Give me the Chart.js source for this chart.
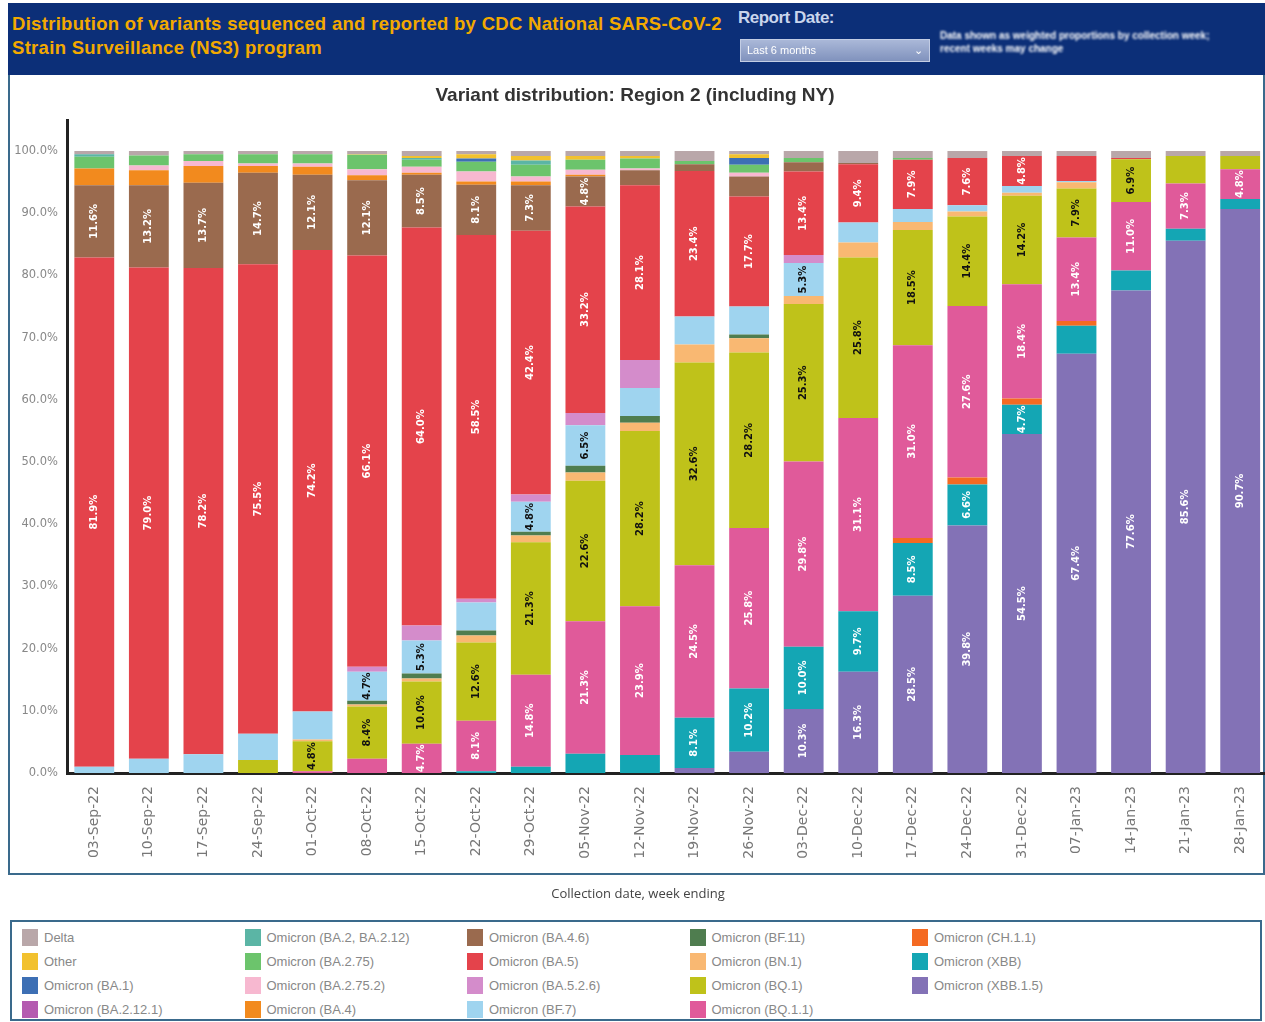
<!DOCTYPE html>
<html>
<head>
<meta charset="utf-8">
<script src="https://cdn.jsdelivr.net/npm/chart.js@4.4.0/dist/chart.umd.min.js"></script>
<style>
html, body { margin: 0; padding: 0; background: #fff; overflow: hidden; width: 1265px; height: 1022px; font-family: "Liberation Sans", Arial, sans-serif; }
#header { position: absolute; left: 8px; top: 3px; width: 1257px; height: 72px; background: #0c2f78; }
#header .title { position: absolute; left: 4px; top: 9px; width: 725px; color: #f2a900; font-weight: bold; font-size: 18.5px; line-height: 24px; letter-spacing: 0.3px; white-space: nowrap; }
#header .rd { position: absolute; left: 730px; top: 5px; color: #c9d5ec; font-weight: bold; font-size: 17px; letter-spacing: -0.5px; }
#header .dd { position: absolute; left: 732px; top: 36px; width: 188px; height: 21px; background: linear-gradient(#aab8d8, #8092bd); border: 1px solid #c3cde4; color: #fff; font-size: 11px; line-height: 21px; text-indent: 6px; filter: blur(0.6px); }
#header .dd span { position: absolute; right: 6px; top: 0; }
#header .note { position: absolute; left: 932px; top: 26px; width: 300px; color: #fff; font-size: 10px; font-weight: bold; line-height: 13px; filter: blur(1.2px); }
#box { position: absolute; left: 8px; top: 75px; width: 1253px; height: 798px; border: 2px solid #3a6a8c; border-top: none; }
#c { position: absolute; left: 0; top: 76px; }
#xtitle { position: absolute; left: 0; width: 1276px; top: 884px; text-align: center; font-family: "Open Sans", sans-serif; font-size: 13px; color: #444; }
#legend { position: absolute; left: 10px; top: 920px; width: 1248px; height: 97px; border: 2px solid #3a6a8c; }
#legend .grid { position: absolute; left: 10px; top: 3px; display: grid; grid-auto-flow: column; grid-template-rows: repeat(4, 24px); grid-template-columns: repeat(5, 222.5px); }
#legend .it { display: flex; align-items: center; font-size: 13px; color: #888; white-space: nowrap; }
#legend .sw { width: 16px; height: 17px; margin-right: 6px; flex: none; }
</style>
</head>
<body>
<div id="header">
  <div class="title">Distribution of variants sequenced and reported by CDC National SARS-CoV-2<br>Strain Surveillance (NS3) program</div>
  <div class="rd">Report Date:</div>
  <div class="dd">Last 6 months<span>&#8964;</span></div>
  <div class="note">Data shown as weighted proportions by collection week; recent weeks may change</div>
</div>
<div id="box"></div>
<canvas id="c" width="1270" height="834"></canvas>
<div id="xtitle">Collection date, week ending</div>
<div id="legend"><div class="grid" id="lg"></div></div>
<script>
// week ending dates
var weeks = ['03-Sep-22', '10-Sep-22', '17-Sep-22', '24-Sep-22', '01-Oct-22', '08-Oct-22', '15-Oct-22', '22-Oct-22',
    '29-Oct-22', '05-Nov-22', '12-Nov-22', '19-Nov-22', '26-Nov-22', '03-Dec-22', '10-Dec-22', '17-Dec-22',
    '24-Dec-22', '31-Dec-22', '07-Jan-23', '14-Jan-23', '21-Jan-23', '28-Jan-23']

// percent of sequences, one array per lineage
var delta     = [0.5, 0.7, 0.5, 0.5, 0.5, 0.5, 0.8, 0.5, 0.8, 0.8, 0.8, 1.6, 0.5, 1.1, 1.9, 1.1, 1.1, 0.8, 0.8, 1.1, 0.8, 0.8]
var other     = [0, 0, 0, 0, 0, 0.1, 0.3, 0.7, 0.7, 0.6, 0.4, 0, 0.6, 0, 0, 0, 0, 0, 0, 0, 0, 0]
var ba1       = [0, 0, 0, 0, 0, 0, 0, 0.5, 0, 0, 0, 0, 1.1, 0, 0, 0, 0, 0, 0, 0, 0, 0]
var ba2_12_1  = [0, 0, 0, 0, 0, 0, 0, 0, 0, 0, 0, 0, 0, 0, 0, 0, 0, 0, 0, 0, 0, 0]
var ba2       = [0.4, 0, 0, 0, 0, 0, 0.3, 0, 0.7, 0, 0, 0, 0, 0, 0, 0, 0, 0, 0, 0, 0, 0]
var ba2_75    = [1.9, 1.6, 1.1, 1.5, 1.5, 2.3, 1.1, 1.6, 1.9, 1.6, 1.6, 0.5, 1.3, 0.7, 0, 0.3, 0, 0, 0, 0, 0, 0]
var ba2_75_2  = [0, 0.8, 0.8, 0.4, 0.5, 1.0, 1.0, 1.6, 0.8, 0.8, 0.3, 0, 0.6, 0, 0, 0, 0, 0, 0, 0, 0, 0]
var ba4       = [2.7, 2.4, 2.7, 1.1, 1.3, 0.8, 0.3, 0.5, 0.6, 0.3, 0, 0, 0, 0, 0, 0, 0, 0, 0, 0, 0, 0]
var ba4_6     = [11.6, 13.2, 13.7, 14.7, 12.1, 12.1, 8.5, 8.1, 7.3, 4.8, 2.4, 1.1, 3.2, 1.5, 0.2, 0, 0, 0, 0, 0, 0, 0]
var ba5       = [81.9, 79.0, 78.2, 75.5, 74.2, 66.1, 64.0, 58.5, 42.4, 33.2, 28.1, 23.4, 17.7, 13.4, 9.4, 7.9, 7.6, 4.8, 4.0, 0.2, 0, 0]
var ba5_2_6   = [0, 0, 0, 0, 0, 0.8, 2.4, 0.6, 1.2, 2.0, 4.5, 0, 0, 1.3, 0, 0, 0, 0, 0, 0, 0, 0]
var bf7       = [1.0, 2.3, 3.0, 4.2, 4.5, 4.7, 5.3, 4.5, 4.8, 6.5, 4.5, 4.5, 4.5, 5.3, 3.2, 2.1, 1.0, 1.1, 0.2, 0, 0, 0]
var bf11      = [0, 0, 0, 0, 0, 0.6, 0.8, 0.8, 0.6, 1.1, 1.1, 0, 0.6, 0, 0, 0, 0, 0, 0, 0, 0, 0]
var bn1       = [0, 0, 0, 0, 0.3, 0.3, 0.5, 1.1, 1.1, 1.3, 1.3, 2.9, 2.3, 1.3, 2.4, 1.3, 0.8, 0.5, 1.0, 0, 0, 0]
var bq1       = [0, 0, 0, 2.1, 4.8, 8.4, 10.0, 12.6, 21.3, 22.6, 28.2, 32.6, 28.2, 25.3, 25.8, 18.5, 14.4, 14.2, 7.9, 6.9, 4.4, 2.1]
var bq1_1     = [0, 0, 0, 0, 0.3, 2.3, 4.7, 8.1, 14.8, 21.3, 23.9, 24.5, 25.8, 29.8, 31.1, 31.0, 27.6, 18.4, 13.4, 11.0, 7.3, 4.8]
var ch1_1     = [0, 0, 0, 0, 0, 0, 0, 0, 0, 0, 0, 0, 0, 0, 0, 0.8, 1.1, 1.0, 0.8, 0, 0, 0]
var xbb       = [0, 0, 0, 0, 0, 0, 0, 0.3, 1.0, 3.1, 2.9, 8.1, 10.2, 10.0, 9.7, 8.5, 6.6, 4.7, 4.5, 3.2, 1.9, 1.6]
var xbb1_5    = [0, 0, 0, 0, 0, 0, 0, 0, 0, 0, 0, 0.8, 3.4, 10.3, 16.3, 28.5, 39.8, 54.5, 67.4, 77.6, 85.6, 90.7]

// legend order (top of the stack first)
var lineages = [
    ['Delta', delta, '#b9a7a9'],
    ['Other', other, '#f2c12e'],
    ['Omicron (BA.1)', ba1, '#3d6fb4'],
    ['Omicron (BA.2.12.1)', ba2_12_1, '#b45bb0'],
    ['Omicron (BA.2, BA.2.12)', ba2, '#5bb5a5'],
    ['Omicron (BA.2.75)', ba2_75, '#6cc46c'],
    ['Omicron (BA.2.75.2)', ba2_75_2, '#f7b8d0'],
    ['Omicron (BA.4)', ba4, '#f28a1e'],
    ['Omicron (BA.4.6)', ba4_6, '#9a6a4e'],
    ['Omicron (BA.5)', ba5, '#e4434b'],
    ['Omicron (BA.5.2.6)', ba5_2_6, '#d48ccb'],
    ['Omicron (BF.7)', bf7, '#9fd4ef'],
    ['Omicron (BF.11)', bf11, '#4f7d4f'],
    ['Omicron (BN.1)', bn1, '#f9b872'],
    ['Omicron (BQ.1)', bq1, '#bfc21a'],
    ['Omicron (BQ.1.1)', bq1_1, '#e05a9a'],
    ['Omicron (CH.1.1)', ch1_1, '#f46a22'],
    ['Omicron (XBB)', xbb, '#14a6b4'],
    ['Omicron (XBB.1.5)', xbb1_5, '#8372b6']
]

var darkText = ['Omicron (BQ.1)', 'Omicron (BF.7)', 'Omicron (BN.1)']

// html legend, column by column
var lg = document.getElementById('lg')
lineages.forEach(function (l) {
    var d = document.createElement('div')
    d.className = 'it'
    d.innerHTML = '<span class="sw" style="background:' + l[2] + '"></span>' + l[0]
    lg.appendChild(d)
})

// value labels inside segments
var segLabels = {
    id: 'segLabels',
    afterDatasetsDraw: function (chart) {
        var ctx = chart.ctx
        ctx.save()
        ctx.font = 'bold 10px "DejaVu Sans"'
        ctx.textAlign = 'center'
        ctx.textBaseline = 'middle'
        chart.data.datasets.forEach(function (ds, i) {
            var meta = chart.getDatasetMeta(i)
            meta.data.forEach(function (bar, j) {
                var v = ds.data[j]
                if (v < 4.7) return
                var h = bar.base - bar.y
                ctx.save()
                ctx.translate(bar.x, bar.y + h / 2)
                ctx.rotate(-Math.PI / 2)
                ctx.fillStyle = darkText.indexOf(ds.label) >= 0 ? '#111' : '#fff'
                ctx.fillText(v.toFixed(1) + '%', 0, 0)
                ctx.restore()
            })
        })
        ctx.restore()
    }
}

var ctx = document.getElementById('c').getContext('2d')
var chart = new Chart(ctx, {
    type: 'bar',
    data: {
        labels: weeks,
        // bottom of the stack first
        datasets: lineages.slice().reverse().map(function (l) {
            return {
                label: l[0],
                data: l[1],
                backgroundColor: l[2],
                borderWidth: 0,
                barPercentage: 0.73,
                categoryPercentage: 1
            }
        })
    },
    plugins: [segLabels],
    options: {
        responsive: false,
        animation: false,
        layout: { padding: 0 },
        plugins: {
            legend: { display: false },
            tooltip: { enabled: false },
            title: {
                display: true,
                text: 'Variant distribution: Region 2 (including NY)',
                color: '#333',
                font: { family: 'Liberation Sans', size: 19, weight: 'bold' },
                padding: { top: 8, bottom: 13.2 }
            }
        },
        scales: {
            x: {
                stacked: true,
                grid: { display: false, drawTicks: false },
                border: { display: true, color: '#222', width: 3 },
                ticks: {
                    autoSkip: false, minRotation: 90, maxRotation: 90, padding: 13,
                    color: '#777', font: { family: 'DejaVu Sans', size: 14 }
                },
                afterFit: function (s) { s.height = 137 }
            },
            y: {
                stacked: true,
                min: 0,
                max: 105,
                grid: { display: false, drawTicks: false },
                border: { display: true, color: '#222', width: 3 },
                ticks: {
                    stepSize: 10, padding: 9, color: '#888',
                    font: { family: 'DejaVu Sans', size: 11.5 },
                    callback: function (v) { return v.toFixed(1) + '%' }
                },
                afterBuildTicks: function (s) {
                    s.ticks = s.ticks.filter(function (t) { return t.value <= 100 })
                },
                afterFit: function (s) { s.width = 67 }
            }
        }
    }
})
</script>
</body>
</html>
